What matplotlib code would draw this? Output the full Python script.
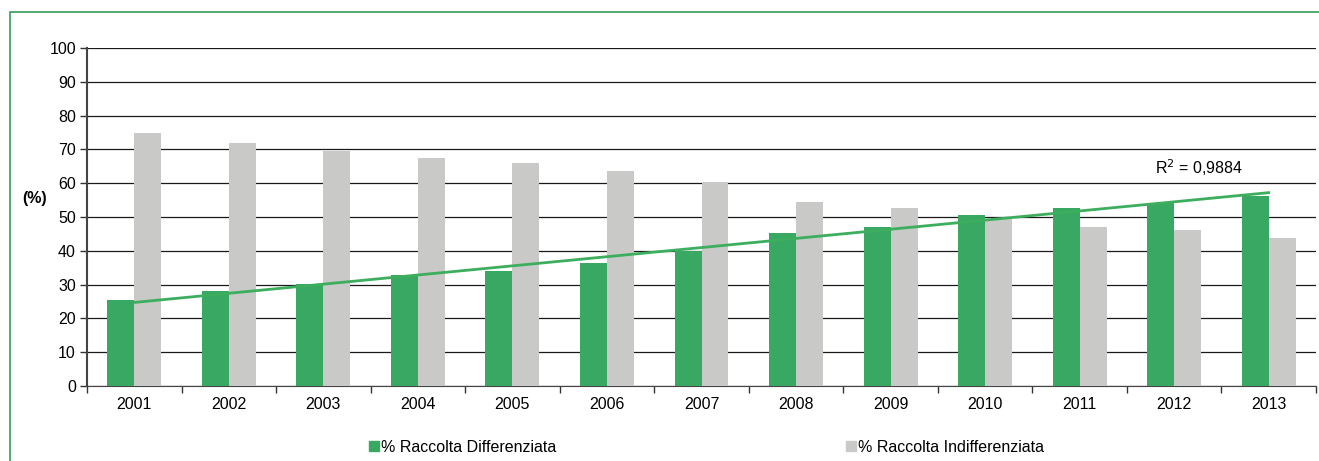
import numpy as np
import matplotlib
matplotlib.use("Agg")
import matplotlib.pyplot as plt
from matplotlib.patches import Rectangle

plt.rcParams['font.family'] = ['Liberation Sans', 'DejaVu Sans']

anni = ['2001', '2002', '2003', '2004', '2005', '2006', '2007',
        '2008', '2009', '2010', '2011', '2012', '2013']
differenziata = [25.4, 28.1, 30.3, 32.8, 34.0, 36.3, 39.8, 45.3, 47.0, 50.5, 52.6, 54.2, 56.2]
indifferenziata = [74.8, 71.8, 69.6, 67.5, 66.0, 63.6, 60.4, 54.4, 52.7, 49.4, 47.0, 46.2, 43.7]

verde = '#38a862'
grigio = '#c9c9c7'
fs = 11.5

fig = plt.figure(figsize=(13.19, 4.61), dpi=100)
ax = fig.add_axes([87/1319, 1 - 386/461, (1316 - 87)/1319, (386 - 48)/461])

x = np.arange(len(anni))
w = 0.285
ax.bar(x - w/2, differenziata, w, color=verde, label='% Raccolta Differenziata', zorder=3)
ax.bar(x + w/2, indifferenziata, w, color=grigio, label='% Raccolta Indifferenziata', zorder=3)

# linea di tendenza lineare
coef = np.polyfit(x, differenziata, 1)
ax.plot(x, np.polyval(coef, x), color='#3cae5e', lw=2, zorder=4)
ax.text(10.8, 64.5, 'R$^2$ = 0,9884', fontsize=fs, va='center')

ax.set_xlim(-0.5, len(anni) - 0.5)
ax.set_ylim(0, 100)
ax.set_yticks(range(0, 101, 10))
ax.set_xticks(x)
ax.set_xticklabels(anni, fontsize=fs)
ax.set_xticks(np.arange(-0.5, len(anni), 1), minor=True)
ax.tick_params(axis='x', which='major', length=0, pad=8)
ax.tick_params(axis='x', which='minor', length=5, width=1, color='#333333', direction='out')
ax.tick_params(axis='y', labelsize=fs, length=5, width=1, color='#333333', pad=3)
ax.yaxis.grid(True, color='#1a1a1a', lw=0.9, zorder=0)
for s in ['top', 'right']:
    ax.spines[s].set_visible(False)
ax.spines['left'].set_color('#444444')
ax.spines['bottom'].set_color('#444444')
ax.spines['left'].set_linewidth(1.5)

fig.text(22/1319, 1 - 199/461, '(%)', fontsize=fs, fontweight='bold', va='center')

# legenda
h1 = Rectangle((0, 0), 1, 1, color=verde)
h2 = Rectangle((0, 0), 1, 1, color=grigio)
fig.legend([h1], ['% Raccolta Differenziata'], loc='center left',
           bbox_to_anchor=(355/1319, 1 - 447/461), frameon=False, fontsize=fs,
           handlelength=0.6, handleheight=0.6, handletextpad=0.1)
fig.legend([h2], ['% Raccolta Indifferenziata'], loc='center left',
           bbox_to_anchor=(832/1319, 1 - 447/461), frameon=False, fontsize=fs,
           handlelength=0.6, handleheight=0.6, handletextpad=0.1)

# cornice verde
fig.patches.append(Rectangle((10/1319, -0.1), 1.2, 1.1 - 12/461, transform=fig.transFigure,
                             fill=False, edgecolor='#3a9a5a', lw=1.2))

fig.savefig('out.png', dpi=100)
